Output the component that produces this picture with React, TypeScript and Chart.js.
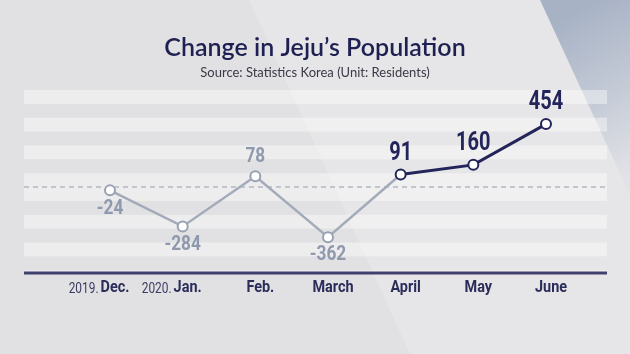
import React, { useEffect, useRef } from 'react';
import { Chart, registerables } from 'chart.js';

Chart.register(...registerables);

// ---- data ----
const yearPrefixes = ['2019.', '2020.', '', '', '', '', ''];
const months = ['Dec.', 'Jan.', 'Feb.', 'March', 'April', 'May', 'June'];
const changes = [-24, -284, 78, -362, 91, 160, 454];
const labelSides = ['below', 'below', 'above', 'below', 'above', 'above', 'above'];
const highlightFrom = 4;
const yMin = -620;
const yMax = 700;
const bandStep = 100;

const titleText = 'Change in Jeju\u2019s Population';
const subtitleText = 'Source: Statistics Korea (Unit: Residents)';

// ---- styles ----
const NAVY = '#23255a';
const GRAY_LINE = '#a3abba';
const GRAY_TEXT = '#8e99ad';
const FONT = 'Roboto, "Noto Sans", sans-serif';
const STRIPE_LEFT = 24;
const STRIPE_RIGHT = 607;

function drawCondensed(
  ctx: CanvasRenderingContext2D,
  text: string,
  x: number,
  y: number,
  sx: number,
  align: CanvasTextAlign
) {
  ctx.save();
  ctx.translate(x, y);
  ctx.scale(sx, 1);
  ctx.textAlign = align;
  ctx.fillText(text, 0, 0);
  ctx.restore();
}

const backgroundPlugin = {
  id: 'bg',
  beforeDraw(chart: any) {
    const { ctx, width, height } = chart;
    ctx.save();
    ctx.fillStyle = '#e1e1e3';
    ctx.fillRect(0, 0, width, height);
    // lighter diagonal panel
    ctx.fillStyle = '#e6e6e8';
    ctx.beginPath();
    ctx.moveTo(249, 0);
    ctx.lineTo(width, 0);
    ctx.lineTo(width, height);
    ctx.lineTo(410, height);
    ctx.closePath();
    ctx.fill();
    // blue-grey wedge top right
    const g = ctx.createLinearGradient(560, 20, 640, 170);
    g.addColorStop(0, '#a7b2c5');
    g.addColorStop(0.55, '#c6ccd7');
    g.addColorStop(1, '#e2e3e6');
    ctx.fillStyle = g;
    ctx.beginPath();
    ctx.moveTo(540, 0);
    ctx.lineTo(width, 0);
    ctx.lineTo(width, 195);
    ctx.closePath();
    ctx.fill();
    // title + subtitle
    ctx.textAlign = 'center';
    ctx.textBaseline = 'middle';
    ctx.fillStyle = '#1f2052';
    ctx.font = '600 25px Lato, sans-serif';
    ctx.fillText(titleText, width / 2, 48);
    ctx.fillStyle = '#3a3a46';
    ctx.font = '13px Lato, sans-serif';
    ctx.fillText(subtitleText, width / 2, 73);
    ctx.restore();
  },
  beforeDatasetsDraw(chart: any) {
    const { ctx } = chart;
    const y = chart.scales.y;
    ctx.save();
    // stripes
    ctx.fillStyle = 'rgba(255,255,255,0.4)';
    const fillBand = (a: number, b: number) => {
      const lo = Math.max(a, yMin);
      const hi = Math.min(b, yMax);
      if (hi <= lo) return;
      const top = y.getPixelForValue(hi);
      const bot = y.getPixelForValue(lo);
      ctx.fillRect(STRIPE_LEFT, top, STRIPE_RIGHT - STRIPE_LEFT, bot - top);
    };
    fillBand(-bandStep, bandStep);
    for (let v = 2 * bandStep; v < Math.max(yMax, -yMin); v += 2 * bandStep) {
      fillBand(v, v + bandStep);
      fillBand(-v - bandStep, -v);
    }
    // dashed zero line
    const y0 = y.getPixelForValue(0);
    ctx.strokeStyle = '#b3b7c1';
    ctx.lineWidth = 1.5;
    ctx.setLineDash([5, 4]);
    ctx.beginPath();
    ctx.moveTo(STRIPE_LEFT, y0);
    ctx.lineTo(STRIPE_RIGHT, y0);
    ctx.stroke();
    ctx.setLineDash([]);
    // base axis line
    const yb = y.getPixelForValue(yMin);
    ctx.strokeStyle = '#3f406c';
    ctx.lineWidth = 3;
    ctx.beginPath();
    ctx.moveTo(STRIPE_LEFT, yb);
    ctx.lineTo(STRIPE_RIGHT, yb);
    ctx.stroke();
    ctx.restore();
  },
  afterDatasetsDraw(chart: any) {
    const { ctx } = chart;
    const meta = chart.getDatasetMeta(0);
    ctx.save();
    ctx.textBaseline = 'middle';
    meta.data.forEach((pt: any, i: number) => {
      const hi = i >= highlightFrom;
      ctx.fillStyle = hi ? NAVY : GRAY_TEXT;
      ctx.font = `bold ${hi ? 25 : 21}px ${FONT}`;
      const above = labelSides[i] === 'above';
      const dy = above ? (hi ? -21 : -19) : 18;
      drawCondensed(ctx, String(changes[i]), pt.x, pt.y + dy, hi ? 0.8 : 0.82, 'center');
    });
    // x labels
    const yb = chart.scales.y.getPixelForValue(yMin) + 15;
    meta.data.forEach((pt: any, i: number) => {
      const cx = pt.x + 5;
      const sxM = 0.85;
      ctx.font = `bold 17px ${FONT}`;
      ctx.fillStyle = '#2b2c5a';
      drawCondensed(ctx, months[i], cx, yb, sxM, 'center');
      const w = ctx.measureText(months[i]).width * sxM;
      if (yearPrefixes[i]) {
        ctx.font = `14px ${FONT}`;
        ctx.fillStyle = '#3b3c62';
        drawCondensed(ctx, yearPrefixes[i], cx - w / 2 - 2, yb + 1, 0.85, 'right');
      }
    });
    ctx.restore();
  },
};

export default function App() {
  const ref = useRef<HTMLCanvasElement | null>(null);

  useEffect(() => {
    document.body.style.margin = '0';
    const canvas = ref.current;
    if (!canvas) return;
    const chart = new Chart(canvas, {
      type: 'line',
      data: {
        labels: months,
        datasets: [
          {
            data: changes,
            borderColor: GRAY_LINE,
            borderWidth: 2.5,
            pointRadius: 5,
            pointBorderWidth: 2,
            pointBackgroundColor: '#ffffff',
            pointBorderColor: changes.map((_, i) => (i >= highlightFrom ? NAVY : '#98a1b3')),
            tension: 0,
            clip: false as any,
            segment: {
              borderColor: (c: any) => (c.p0DataIndex >= highlightFrom ? NAVY : GRAY_LINE),
              borderWidth: (c: any) => (c.p0DataIndex >= highlightFrom ? 3 : 2.5),
            },
          } as any,
        ],
      },
      options: {
        animation: false,
        responsive: false,
        maintainAspectRatio: false,
        layout: { padding: { left: 110, right: 84, top: 90, bottom: 81 } },
        scales: {
          x: { type: 'category', display: false, offset: false },
          y: { display: false, min: yMin, max: yMax },
        },
        plugins: {
          legend: { display: false },
          tooltip: { enabled: false },
          title: { display: false },
        },
      },
      plugins: [backgroundPlugin],
    });
    return () => chart.destroy();
  }, []);

  return (
    <div style={{ width: 630, height: 354 }}>
      <canvas ref={ref} width={630} height={354} style={{ display: 'block' }} />
    </div>
  );
}
